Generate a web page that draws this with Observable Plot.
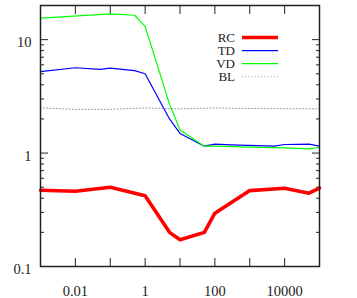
<!DOCTYPE html>
<html><head><meta charset="utf-8">
<script src="https://cdn.jsdelivr.net/npm/d3@7"></script>
<script src="https://cdn.jsdelivr.net/npm/@observablehq/plot@0.6"></script>
<style>body{margin:0;background:#fff}</style>
</head><body><div id="chart"></div>
<script>
// Data (log-log)
const rcX = [0.001, 0.01, 0.1, 1, 5, 10, 50, 100, 1000, 10000, 50000, 100000];
const rcY = [0.47, 0.46, 0.50, 0.42, 0.20, 0.172, 0.20, 0.295, 0.467, 0.49, 0.443, 0.49];

const tdX = [0.001, 0.01, 0.05, 0.1, 0.5, 1, 5, 10, 50, 100, 300, 5000, 10000, 50000, 100000];
const tdY = [5.22, 5.65, 5.47, 5.6, 5.33, 5.0, 2.0, 1.49, 1.15, 1.2, 1.18, 1.15, 1.19, 1.2, 1.15];

const vdX = [0.001, 0.1, 0.5, 1, 5, 10, 50, 100, 1000, 10000, 50000, 100000];
const vdY = [15.5, 16.9, 16.4, 13.1, 2.7, 1.6, 1.15, 1.15, 1.13, 1.11, 1.09, 1.12];

const blX = [0.001, 0.01, 0.1, 1, 10, 100, 1000, 10000, 100000];
const blY = [2.5, 2.43, 2.43, 2.5, 2.45, 2.5, 2.47, 2.46, 2.46];

const seriesNames = ["RC", "TD", "VD", "BL"];
const seriesColors = ["#ff0000", "#0000ff", "#00ff00", "#999999"];

const xTicks = [0.001, 0.01, 0.1, 1, 10, 100, 1000, 10000, 100000];
const xTickLabels = [0.01, 1, 100, 10000];
const yMajor = [0.1, 1, 10];
const yMinor = [0.2, 0.3, 0.4, 0.5, 0.6, 0.7, 0.8, 0.9, 2, 3, 4, 5, 6, 7, 8, 9];

const rows = (xs, ys) => xs.map((x, i) => ({x, y: ys[i]}));
const font = "'Liberation Serif', 'Times New Roman', serif";
const ink = "#222";
const noText = () => "";

const plot = Plot.plot({
  width: 357, height: 298,
  marginLeft: 40, marginRight: 38, marginTop: 5, marginBottom: 32,
  style: {fontFamily: font, fontSize: "14.5px", background: "white", color: ink, overflow: "visible"},
  x: {type: "log", domain: [0.001, 100000]},
  y: {type: "log", domain: [0.1, 20]},
  marks: [
    // inward ticks on all four sides
    Plot.axisX(xTicks, {anchor: "bottom", tickSize: 8, dy: -8, tickFormat: noText, label: null, stroke: ink}),
    Plot.axisX(xTicks, {anchor: "top", tickSize: 8, dy: 8, tickFormat: noText, label: null, stroke: ink}),
    Plot.axisY(yMajor, {anchor: "left", tickSize: 8, dx: 8, tickFormat: noText, label: null, stroke: ink}),
    Plot.axisY(yMinor, {anchor: "left", tickSize: 4, dx: 4, tickFormat: noText, label: null, stroke: ink}),
    Plot.axisY(yMajor, {anchor: "right", tickSize: 8, dx: -8, tickFormat: noText, label: null, stroke: ink}),
    Plot.axisY(yMinor, {anchor: "right", tickSize: 4, dx: -4, tickFormat: noText, label: null, stroke: ink}),
    // tick labels
    Plot.axisX(xTickLabels, {anchor: "bottom", tickSize: 0, tickPadding: 19, tickFormat: d => String(d), label: null, fill: ink}),
    Plot.axisY(yMajor, {anchor: "left", tickSize: 0, tickPadding: 9, dy: 3, tickFormat: d => String(d), label: null, fill: ink}),
    // series
    Plot.line(rows(rcX, rcY), {x: "x", y: "y", stroke: seriesColors[0], strokeWidth: 3.6}),
    Plot.line(rows(tdX, tdY), {x: "x", y: "y", stroke: seriesColors[1], strokeWidth: 1.2}),
    Plot.line(rows(vdX, vdY), {x: "x", y: "y", stroke: seriesColors[2], strokeWidth: 1.2}),
    Plot.line(rows(blX, blY), {x: "x", y: "y", stroke: seriesColors[3], strokeWidth: 1, strokeDasharray: "1,2.2"}),
    Plot.frame({stroke: ink, strokeWidth: 1.5})
  ]
});

// Legend inside the plot (top right)
const svg = d3.select(plot);
const lg = svg.append("g").attr("font-family", font).attr("font-size", "13px").attr("fill", ink);
const widths = [3.6, 1.2, 1.2, 1];
seriesNames.forEach((name, i) => {
  const yy = 37.5 + i * 13.1;
  lg.append("text").attr("x", 235).attr("y", yy).attr("dy", "0.35em").attr("text-anchor", "end").text(name);
  const ln = lg.append("line").attr("x1", 242).attr("x2", 278).attr("y1", yy).attr("y2", yy)
    .attr("stroke", seriesColors[i]).attr("stroke-width", widths[i]);
  if (name === "BL") ln.attr("stroke-dasharray", "1,2.2");
});

document.getElementById("chart").append(plot);
</script>
</body></html>
